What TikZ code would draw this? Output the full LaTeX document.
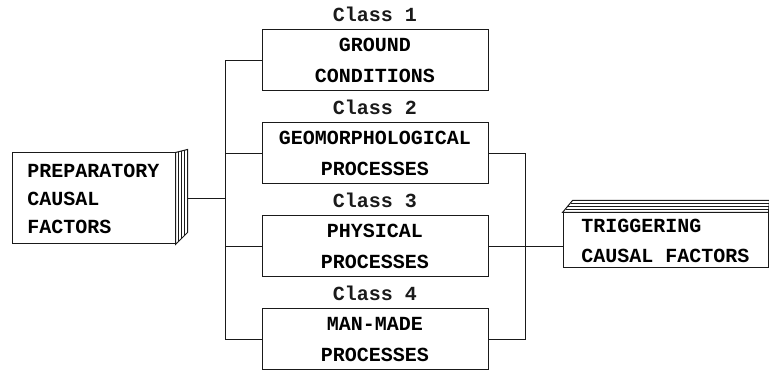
\documentclass[tikz,border=0pt]{standalone}
\usepackage{fontspec}
\setmonofont{Liberation Mono}
\usepackage{xcolor}
\definecolor{cInk}{HTML}{1A1A1A}
\definecolor{cPaper}{HTML}{FFFFFF}
\usepackage{tikz}
\usetikzlibrary{positioning,calc}
\tikzset{
  node-class/.style={draw=cInk,line width=1pt,minimum width=226pt,
    minimum height=61pt,align=center,inner sep=2pt,
    font=\ttfamily\bfseries\fontsize{20}{31}\selectfont},
  node-tag/.style={inner sep=0pt,text=cInk,
    font=\ttfamily\bfseries\fontsize{20}{24}\selectfont},
  node-cause/.style={draw=cInk,line width=1pt,align=left,inner sep=2pt,
    font=\ttfamily\bfseries\fontsize{20}{28}\selectfont},
  % stacked sheets behind the two cause boxes
  node-sheets/.style={draw=cInk,line width=1pt,fill=cPaper},
  sheet-line/.style={draw=cInk,line width=0.6pt},
  link/.style={draw=cInk,line width=0.8pt},
}
\begin{document}
\begin{tikzpicture}[x=1pt,y=-1pt]
  \useasboundingbox (0,0) rectangle (769,371);
  % the four classes
  \node[node-class] (c1) at (375,60.5) {GROUND\\CONDITIONS};
  \node[node-class,below=31pt of c1] (c2) {GEOMORPHOLOGICAL\\PROCESSES};
  \node[node-class,below=31pt of c2] (c3) {PHYSICAL\\PROCESSES};
  \node[node-class,below=31pt of c3] (c4) {MAN-MADE\\PROCESSES};
  \node[node-tag,above=8pt of c1] (t1) {Class 1};
  \node[node-tag,above=8pt of c2] (t2) {Class 2};
  \node[node-tag,above=8pt of c3] (t3) {Class 3};
  \node[node-tag,above=8pt of c4] (t4) {Class 4};
  % cause boxes
  \node[node-cause,minimum width=163pt,minimum height=91pt] (prep)
    at (93.5,198.5) {PREPARATORY\\CAUSAL\\FACTORS};
  \node[node-cause,minimum width=205pt,minimum height=55pt,
    font=\ttfamily\bfseries\fontsize{20}{30}\selectfont] (trig)
    at (665.5,240.5) {TRIGGERING\\CAUSAL FACTORS};
  \coordinate (lbus) at (225,0);
  \coordinate (rbus) at (525,0);
  \draw[link] (prep.east) -- (prep.east -| lbus);
  \draw[link] (c1.west) -- (c1.west -| lbus) -- (c4.west -| lbus) -- (c4.west);
  \draw[link] (c2.west) -- (c2.west -| lbus);
  \draw[link] (c3.west) -- (c3.west -| lbus);
  \draw[link] (c2.east) -- (c2.east -| rbus) -- (c4.east -| rbus) -- (c4.east);
  \draw[link] (c3.east) -- (trig.west |- c3.east);
  % sheets on the side of the left box
  \path[node-sheets] (prep.north east) -- ++(12,-3) -- ($(prep.south east)+(12,-12)$)
    -- (prep.south east) -- cycle;
  \foreach \t in {0.25,0.5,0.75}
    \draw[sheet-line] ($(prep.north east)+(12*\t,-3*\t)$)
      -- ($(prep.south east)+(12*\t,-12*\t)$);
  % sheets on top of the right box
  \path[node-sheets] (trig.north west) -- ++(10,-12) -- ($(trig.north east)+(1,-12)$)
    -- (trig.north east) -- cycle;
  \foreach \t in {0.3,0.55,0.8}
    \draw[sheet-line] ($(trig.north west)+(10*\t,-12*\t)$)
      -- ($(trig.north east)+(1,-12*\t)$);
\end{tikzpicture}
\end{document}
